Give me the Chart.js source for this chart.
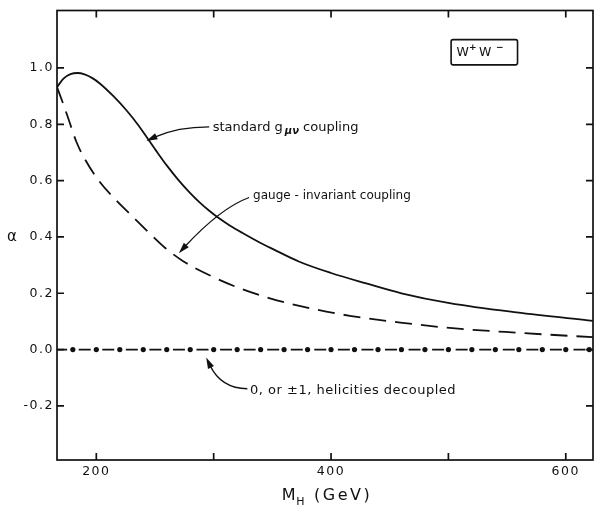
<!DOCTYPE html>
<html><head><meta charset="utf-8">
<script src="https://cdn.jsdelivr.net/npm/chart.js@4.4.1/dist/chart.umd.min.js"></script>
<style>html,body{margin:0;padding:0;background:#fff;} #wrap{width:597px;height:506px;}</style>
</head><body><div id="wrap"><canvas id="c" width="597" height="506" style="width:597px;height:506px"></canvas></div>
<script>
const FONT = "'DejaVu Sans', sans-serif";
const INK = '#111';

// axis ranges and ticks
const xRange = [166.5, 623.2];
const yRange = [-0.392, 1.204];
const xTicks = [200, 300, 400, 500, 600];
const xTickLabels = ['200', '', '400', '', '600'];
const yTicks = [-0.2, 0.0, 0.2, 0.4, 0.6, 0.8, 1.0];
const yTickLabels = ['-0.2', '0.0', '0.2', '0.4', '0.6', '0.8', '1.0'];

// standard g_mu_nu coupling (solid)
const standardM = [166.5, 172, 178, 184, 190, 197, 203, 215, 226, 235, 243, 252, 260, 270, 280, 288, 296, 304, 314, 325, 338, 351, 373, 400, 430, 460, 501, 558, 623];
const standardA = [0.932, 0.962, 0.978, 0.982, 0.977, 0.963, 0.945, 0.898, 0.848, 0.801, 0.754, 0.700, 0.654, 0.602, 0.556, 0.523, 0.494, 0.468, 0.440, 0.413, 0.383, 0.356, 0.312, 0.272, 0.235, 0.200, 0.165, 0.132, 0.102];

// gauge-invariant coupling (dashed)
const gaugeM = [166.5, 172, 177, 183, 190, 203, 217, 231, 245.6, 259, 274, 298, 322, 348, 373, 416, 459, 501, 558, 623];
const gaugeA = [0.932, 0.870, 0.810, 0.738, 0.678, 0.595, 0.530, 0.472, 0.412, 0.360, 0.314, 0.261, 0.218, 0.182, 0.155, 0.120, 0.096, 0.077, 0.060, 0.044];

// 0, or +-1, helicities decoupled (dash-dot at zero)
const decoupledM = [180, 200, 220, 240, 260, 280, 300, 320, 340, 360, 380, 400, 420, 440, 460, 480, 500, 520, 540, 560, 580, 600, 620];
const decoupledA = [0, 0, 0, 0, 0, 0, 0, 0, 0, 0, 0, 0, 0, 0, 0, 0, 0, 0, 0, 0, 0, 0, 0];
const decoupledLineM = [166.5, 623.2];
const decoupledLineA = [0, 0];

// annotation anchors (data coordinates)
const arrows = [
  {p0: [296.2, 0.791], c: [269, 0.791], tip: [242.7, 0.741]},
  {p0: [330.2, 0.540], c: [306, 0.503], tip: [270.3, 0.3425]},
  {p0: [328.7, -0.139], c: [306.4, -0.138], tip: [293.6, -0.0282]}
];
const labels = [
  {at: [299.2, 0.788], parts: [{t: 'standard g', s: 13}, {t: 'μν', s: 10, dy: 4, st: 'italic bold', pre: 2}, {t: ' coupling', s: 13}]},
  {at: [333.6, 0.547], parts: [{t: 'gauge - invariant coupling', s: 12}]},
  {at: [331.0, -0.1448], parts: [{t: '0, or ±1, helicities decoupled', s: 13}], ls: 0.5}
];
const boxRange = {m: [502.3, 558.9], a: [1.011, 1.1006]};

const toXY = (xs, ys) => xs.map((x, i) => ({x: x, y: ys[i]}));

function drawParts(ctx, parts, x, y, ls) {
  let cx = x;
  parts.forEach(p => {
    ctx.letterSpacing = (p.ls !== undefined ? p.ls : (ls || 0)) + 'px';
    ctx.font = (p.st ? p.st + ' ' : '') + p.s + 'px ' + FONT;
    cx += (p.pre || 0);
    ctx.fillText(p.t, cx, y + (p.dy || 0));
    cx += ctx.measureText(p.t).width;
  });
}

function drawArrow(ctx, p0, c, p2) {
  const dx = p2[0] - c[0], dy = p2[1] - c[1];
  const L = Math.hypot(dx, dy), ux = dx / L, uy = dy / L;
  const len = 11, hw = 3.3;
  const bx = p2[0] - ux * len, by = p2[1] - uy * len;
  ctx.beginPath();
  ctx.moveTo(p0[0], p0[1]);
  ctx.quadraticCurveTo(c[0], c[1], bx + ux * 2, by + uy * 2);
  ctx.stroke();
  ctx.beginPath();
  ctx.moveTo(p2[0], p2[1]);
  ctx.lineTo(bx - uy * hw, by + ux * hw);
  ctx.lineTo(bx + uy * hw, by - ux * hw);
  ctx.closePath();
  ctx.fill();
}

const inkPlugin = {
  id: 'ink',
  beforeDraw(chart) { chart.ctx.letterSpacing = '1.5px'; },
  afterDraw(chart) {
    const ctx = chart.ctx, a = chart.chartArea, x = chart.scales.x, y = chart.scales.y;
    const P = (m, v) => [x.getPixelForValue(m), y.getPixelForValue(v)];
    ctx.save();
    ctx.letterSpacing = '0px';
    ctx.strokeStyle = INK; ctx.fillStyle = INK;
    ctx.lineWidth = 1.7; ctx.lineCap = 'butt';
    ctx.strokeRect(a.left, a.top, a.right - a.left, a.bottom - a.top);
    const tl = 7;
    ctx.beginPath();
    xTicks.forEach(v => {
      const px = x.getPixelForValue(v);
      ctx.moveTo(px, a.bottom); ctx.lineTo(px, a.bottom - tl);
      ctx.moveTo(px, a.top); ctx.lineTo(px, a.top + tl);
    });
    yTicks.forEach(v => {
      const py = y.getPixelForValue(v);
      ctx.moveTo(a.left, py); ctx.lineTo(a.left + tl, py);
      ctx.moveTo(a.right, py); ctx.lineTo(a.right - tl, py);
    });
    ctx.stroke();

    // arrows
    ctx.lineWidth = 1.3;
    arrows.forEach(ar => drawArrow(ctx, P(ar.p0[0], ar.p0[1]), P(ar.c[0], ar.c[1]), P(ar.tip[0], ar.tip[1])));

    // labels
    ctx.textBaseline = 'middle'; ctx.textAlign = 'left';
    labels.forEach(l => { const p = P(l.at[0], l.at[1]); drawParts(ctx, l.parts, p[0], p[1], l.ls); });
    ctx.letterSpacing = '0px';

    // W+W- box
    const b0 = P(boxRange.m[0], boxRange.a[1]), b1 = P(boxRange.m[1], boxRange.a[0]);
    ctx.lineWidth = 1.6;
    ctx.beginPath();
    if (ctx.roundRect) ctx.roundRect(b0[0], b0[1], b1[0] - b0[0], b1[1] - b0[1], 2);
    else ctx.rect(b0[0], b0[1], b1[0] - b0[0], b1[1] - b0[1]);
    ctx.stroke();
    const by = (b0[1] + b1[1]) / 2 + 1;
    ctx.textBaseline = 'middle';
    ctx.font = '12.5px ' + FONT;
    ctx.fillText('W', b0[0] + 5.5, by);
    ctx.font = 'bold 9px ' + FONT;
    ctx.fillText('+', b0[0] + 18, by - 6);
    ctx.font = '12.5px ' + FONT;
    ctx.fillText('W', b0[0] + 28, by);
    ctx.font = 'bold 9px ' + FONT;
    ctx.fillText('−', b0[0] + 45, by - 6);

    // y-axis title (alpha), upright
    ctx.font = '15px ' + FONT;
    ctx.textAlign = 'center';
    ctx.fillText('α', 12, y.getPixelForValue(0.4));

    // x-axis title M_H (GeV)
    ctx.textAlign = 'left'; ctx.textBaseline = 'alphabetic';
    const parts = [{t: 'M', s: 16, ls: 0.5}, {t: 'H', s: 11, dy: 5, ls: 2}, {t: ' (GeV)', s: 16, ls: 2.5}];
    let w = 0;
    parts.forEach(p => { ctx.letterSpacing = p.ls + 'px'; ctx.font = p.s + 'px ' + FONT; w += ctx.measureText(p.t).width + (p.pre || 0); });
    drawParts(ctx, parts, (a.left + a.right) / 2 - w / 2 + 2, 500, 0);
    ctx.restore();
  }
};

new Chart(document.getElementById('c'), {
  type: 'scatter',
  data: {
    datasets: [
      {data: toXY(standardM, standardA), showLine: true, borderColor: INK, borderWidth: 1.8, pointRadius: 0, cubicInterpolationMode: 'monotone', tension: 0.4},
      {data: toXY(gaugeM, gaugeA), showLine: true, borderColor: INK, borderWidth: 1.8, borderDash: [17, 9], pointRadius: 0, cubicInterpolationMode: 'monotone', tension: 0.4},
      {data: toXY(decoupledLineM, decoupledLineA), showLine: true, borderColor: INK, borderWidth: 1.6, borderDash: [12, 11.56], borderDashOffset: 1.86, pointRadius: 0},
      {data: toXY(decoupledM, decoupledA), showLine: false, pointRadius: 2.6, pointBackgroundColor: INK, pointBorderWidth: 0}
    ]
  },
  options: {
    responsive: false, animation: false, devicePixelRatio: 1,
    layout: {padding: {top: 8, right: 2, left: 0, bottom: 0}},
    plugins: {legend: {display: false}, tooltip: {enabled: false}},
    scales: {
      x: {
        type: 'linear', min: xRange[0], max: xRange[1],
        afterBuildTicks: s => { s.ticks = xTicks.map(v => ({value: v})); },
        afterFit: s => { s.height = 46; },
        grid: {display: false, drawTicks: false}, border: {display: false},
        ticks: {callback: (v, i) => xTickLabels[i], font: {family: FONT, size: 12.5}, color: INK, padding: 4, maxRotation: 0, autoSkip: false}
      },
      y: {
        type: 'linear', min: yRange[0], max: yRange[1],
        afterBuildTicks: s => { s.ticks = yTicks.map(v => ({value: v})); },
        afterFit: s => { s.width = 57; },
        grid: {display: false, drawTicks: false}, border: {display: false},
        ticks: {callback: (v, i) => yTickLabels[i], font: {family: FONT, size: 12.5}, color: INK, padding: 3, autoSkip: false}
      }
    }
  },
  plugins: [inkPlugin]
});
</script></body></html>
